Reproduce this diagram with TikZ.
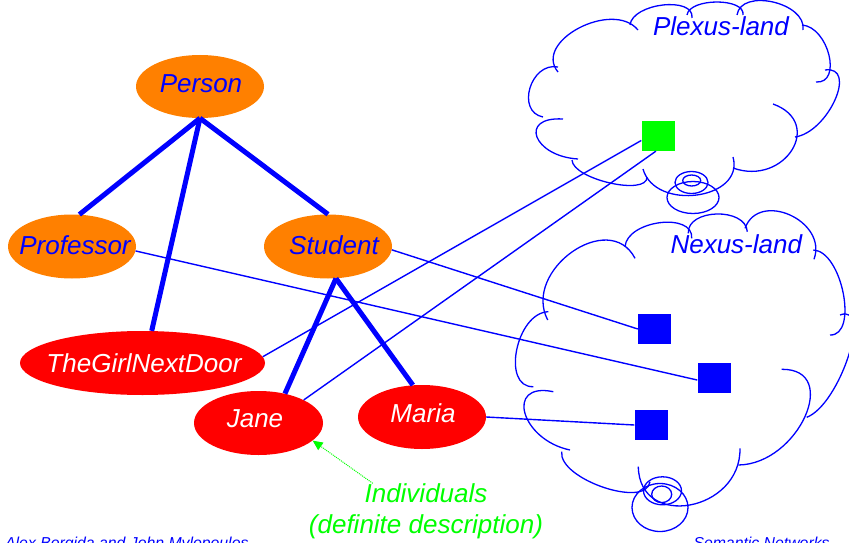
\documentclass[tikz,border=0pt]{standalone}
\usepackage{fontspec}
\setmainfont{Liberation Sans}
\usetikzlibrary{shapes.geometric,calc,arrows.meta}

\definecolor{clsorange}{RGB}{255,128,0}
\definecolor{indred}{RGB}{255,0,0}
\definecolor{netblue}{RGB}{0,0,255}
\definecolor{notegreen}{RGB}{0,255,0}

% one puff of a cloud outline: start, middle point of the arc, end
\newcommand\puff[3]{\draw[cloudline] (#1) .. controls ($0.3333*(#1)+1.3333*(#2)-0.6667*(#3)$)
  and ($1.3333*(#2)+0.3333*(#3)-0.6667*(#1)$) .. (#3);}

\tikzset{
  lbl/.style={font=\fontsize{26}{31}\selectfont\itshape},
  cls/.style={ellipse, fill=clsorange, inner sep=0pt, minimum width=128pt, minimum height=64pt},
  ind/.style={ellipse, fill=indred, inner sep=0pt, minimum width=129pt, minimum height=64pt},
  isa/.style={draw=netblue, line width=5pt},
  refline/.style={draw=netblue, line width=1.4pt},
  cloudline/.style={draw=netblue, line width=1.3pt},
  obj/.style={rectangle, inner sep=0pt, minimum width=33pt, minimum height=30pt},
  foot/.style={font=\fontsize{15.8}{18}\selectfont\itshape, text=netblue, inner sep=0pt},
}

\begin{document}
\begin{tikzpicture}[x=1pt, y=-1pt, line join=round]
\useasboundingbox (0,0) rectangle (849,543);

% ---- Plexus-land cloud ----
\puff{558,72}{579,28}{638,30}
\puff{630,25}{663,5}{692,18}
\puff{687,15}{717,2}{743,15}
\puff{737,15}{773,2}{803,30}
\puff{802,25}{829,55}{816,82}
\puff{825,70}{835,100}{795,137}
\puff{773,104}{792,150}{733,168}
\puff{733,157}{697,195}{643,169}
\puff{647,177}{610,183}{572,160}
\puff{578,159}{537,137}{563,119}
\puff{543,117}{530,88}{558,67}
\draw[cloudline] (691.7,180.5) ellipse [x radius=9, y radius=5.5];
\draw[cloudline] (691.5,182.5) ellipse [x radius=16.5, y radius=11];
\draw[cloudline] (693,197.5) ellipse [x radius=26, y radius=16];
\node[lbl, text=netblue, anchor=base, inner sep=0pt] (plexus) at (721,36) {Plexus-land};

% ---- Nexus-land cloud ----
\puff{547.7,320}{572,252}{635,258.3}
\puff{625,246.7}{660,222.7}{691.7,238.3}
\puff{688.3,233.3}{716.7,214}{747.3,231.7}
\puff{745,228.3}{790,215}{814,259.3}
\puff{813.3,250}{843.3,293.3}{830,335}
\puff{840,315}{848.3,356.7}{806.7,417.3}
\puff{781.7,369.3}{805,416.7}{738.3,465}
\puff{740,448.3}{690,505}{638.3,466.7}
\puff{650,481.7}{603.3,487.3}{561.7,451.7}
\puff{570,450}{525,413.3}{553.3,391.7}
\puff{533.3,386.7}{516.7,350}{548.3,311.7}
\draw[cloudline] (661.7,494.3) ellipse [x radius=10, y radius=8.3];
\draw[cloudline] (662.5,490.8) ellipse [x radius=19, y radius=14];
\draw[cloudline] (660,507.5) ellipse [x radius=28, y radius=24];
\node[lbl, text=netblue, anchor=base, inner sep=0pt] (nexus) at (736.3,253.3) {Nexus-land};

% ---- concepts and individuals ----
\node[cls, minimum height=63pt, label={[lbl, text=netblue, xshift=1pt, yshift=2.5pt]center:Person}] (person) at (200,86.5) {};
\node[cls, label={[lbl, text=netblue, xshift=3pt, yshift=1pt]center:Professor}] (prof) at (72,246.5) {};
\node[cls, label={[lbl, text=netblue, xshift=6pt, yshift=1pt]center:Student}] (stud) at (328,246.5) {};
\node[ind, minimum width=245pt, label={[lbl, text=white, xshift=1.5pt]center:TheGirlNextDoor}] (tgnd) at (142.5,363) {};
\node[ind, label={[lbl, text=white, xshift=-3.5pt, yshift=4pt]center:Jane}] (jane) at (258.5,423) {};
\node[ind, minimum width=128pt, label={[lbl, text=white, xshift=1pt, yshift=3.5pt]center:Maria}] (maria) at (422,417) {};

% ---- objects in the two worlds ----
\node[obj, fill=notegreen] (plexobj) at (658,136) {};
\node[obj, fill=netblue] (nexA) at (654.5,329) {};
\node[obj, fill=netblue] (nexB) at (714,378) {};
\node[obj, fill=netblue] (nexC) at (651,425) {};

% ---- IS-A / instance links ----
\draw[isa] (person.south) -- (prof.77);
\draw[isa] (person.south) -- (stud.north);
\draw[isa] (person.south) -- (tgnd.74);
\draw[isa] (stud.-76) -- (jane.48);
\draw[isa] (stud.-76) -- (maria.106);

% ---- denotation links ----
\draw[refline] (prof.-4) -- (nexB.-173);
\draw[refline] (stud.-3) -- (nexA.west);
\draw[refline] (tgnd.3) -- (plexobj.-165);
\draw[refline] (jane.27) -- (plexobj.-98);
\draw[refline] (maria.east) -- (nexC.west);

% ---- annotation ----
\node[lbl, text=notegreen, align=center, anchor=north, inner sep=0pt] (note) at (426,483.3)
  {Individuals\\(definite description)};
\draw[notegreen, line width=1pt, dash pattern=on 1pt off 1pt,
      -{Triangle[length=10pt, width=9pt]}] ([xshift=64pt]note.north west) -- (jane.-18);

% ---- footer ----
\node[foot, anchor=base west] (authors) at (5,548.8) {Alex Borgida and John Mylopoulos};
\node[foot, anchor=base west] (topic) at (693.3,548.8) {Semantic Networks};
\end{tikzpicture}
\end{document}
